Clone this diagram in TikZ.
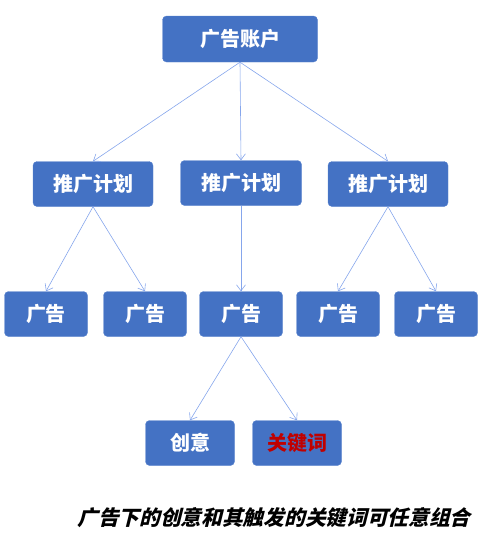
\documentclass[tikz,border=0pt]{standalone}
\usepackage{fontspec}
\usepackage{xcolor}
\newfontfamily\cjk{Noto Sans CJK SC}
\newfontfamily\cjkslant{Noto Sans CJK SC}[FakeSlant=0.25]
\definecolor{boxblue}{HTML}{4472C4}
\definecolor{boxline}{HTML}{5B84CF}
\definecolor{linkblue}{HTML}{86A6EC}
\definecolor{keyred}{HTML}{C00000}
\usetikzlibrary{arrows.meta}

\begin{document}
\begin{tikzpicture}[x=1pt, y=-1pt,
        box/.style = {rectangle, rounded corners=4pt, draw=boxline, fill=boxblue,
                      text=white, font=\cjk\bfseries\fontsize{20}{24}\selectfont,
                      inner sep=0pt},
        link/.style = {draw=linkblue, line width=0.6pt,
                       -{Straight Barb[length=6pt, width=9pt]}} ]

   \useasboundingbox (0,0) rectangle (494,536);

   % account
   \node (acc)  [box, minimum width=155pt, minimum height=46pt] at (240,39) {广告账户};

   % plans
   \node (pl1)  [box, minimum width=120pt, minimum height=45pt] at (93,184)  {推广计划};
   \node (pl2)  [box, minimum width=121pt, minimum height=45pt] at (241,183) {推广计划};
   \node (pl3)  [box, minimum width=120pt, minimum height=45pt] at (388,184) {推广计划};

   % ads
   \foreach \name/\x in {ad1/46, ad2/145, ad3/241, ad4/338, ad5/436}
      \node (\name) [box, minimum width=83pt, minimum height=45pt] at (\x,314) {广告};

   % creative and keywords
   \node (cre)  [box, minimum width=89pt, minimum height=45pt] at (190,443) {创意};
   \node (kw)   [box, minimum width=89pt, minimum height=45pt, text=keyred] at (297,443) {关键词};

   \foreach \from/\to in {acc/pl1, acc/pl2, acc/pl3,
                          pl1/ad1, pl1/ad2, pl2/ad3, pl3/ad4, pl3/ad5,
                          ad3/cre, ad3/kw}
      \draw [link] (\from.south) -- (\to.north);

   \node (note) at (274,518) {\cjkslant\bfseries\fontsize{20.7}{24}\selectfont 广告下的创意和其触发的关键词可任意组合};
\end{tikzpicture}
\end{document}
